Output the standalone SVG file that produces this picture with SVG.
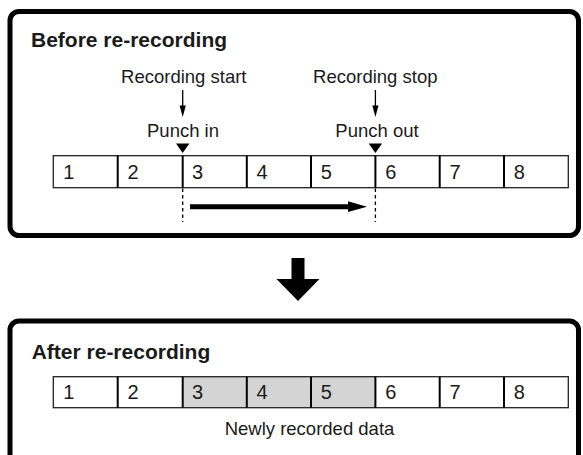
<svg xmlns="http://www.w3.org/2000/svg" width="583" height="455" viewBox="0 0 583 455">
<style>
.frame{fill:#fff;stroke:#000;stroke-width:5}
.t{font-family:"Liberation Sans",Arial,sans-serif;fill:#1a1a1a}
.title{font-size:21px;font-weight:bold}
.lbl{font-size:18.5px;text-anchor:middle}
.dig{font-size:20px}
.cells{fill:none;stroke:#222;stroke-width:1.3}
.div{stroke:#000;stroke-width:2}
.dash{stroke:#000;stroke-width:1.3;stroke-dasharray:3.5 3}
.thin{stroke:#000;stroke-width:1.3}
.shade{fill:#d4d4d4}
</style>
<rect width="583" height="455" fill="#fff"/>
<g id="before">
<rect class="frame" x="10" y="11.5" width="568.5" height="224" rx="9"/>
<text class="t title" x="31" y="46.7">Before re-recording</text>
</g>
<g id="labels-before">
<g id="start">
<text class="t lbl" x="183.8" y="83.3">Recording start</text>
<text class="t lbl" x="183" y="136.7">Punch in</text>
</g>
<g id="stop">
<text class="t lbl" x="375.3" y="83.3">Recording stop</text>
<text class="t lbl" x="377" y="136.7">Punch out</text>
</g>
</g>
<g id="track-before">
<rect class="cells" x="53.3" y="155.7" width="515" height="32"/>
<g class="div">
<line x1="117.7" y1="155.7" x2="117.7" y2="187.7"/>
<line x1="182.7" y1="155.7" x2="182.7" y2="187.7"/>
<line x1="246.8" y1="155.7" x2="246.8" y2="187.7"/>
<line x1="311" y1="155.7" x2="311" y2="187.7"/>
<line x1="375.4" y1="155.7" x2="375.4" y2="187.7"/>
<line x1="439.7" y1="155.7" x2="439.7" y2="187.7"/>
<line x1="504" y1="155.7" x2="504" y2="187.7"/>
</g>
<g class="t dig">
<text x="63.3" y="178.5">1</text>
<text x="127.5" y="178.5">2</text>
<text x="192" y="178.5">3</text>
<text x="256.5" y="178.5">4</text>
<text x="320.8" y="178.5">5</text>
<text x="385.2" y="178.5">6</text>
<text x="449.5" y="178.5">7</text>
<text x="513.8" y="178.5">8</text>
</g>
</g>
<g id="connectors">
<line class="thin" x1="182.7" y1="90" x2="182.7" y2="108"/>
<polygon points="179.6,105.5 185.8,105.5 182.7,117" fill="#000"/>
<line class="thin" x1="375.4" y1="90" x2="375.4" y2="108"/>
<polygon points="372.3,105.5 378.5,105.5 375.4,117" fill="#000"/>
<polygon points="176,143.5 189.4,143.5 182.7,153" fill="#000"/>
<polygon points="368.7,143.5 382.1,143.5 375.4,153" fill="#000"/>
<line class="dash" x1="182.7" y1="188.5" x2="182.7" y2="222"/>
<line class="dash" x1="375.4" y1="188.5" x2="375.4" y2="222"/>
<line x1="190" y1="206.7" x2="350" y2="206.7" stroke="#000" stroke-width="5"/>
<polygon points="348,201.3 367,206.7 348,212.1" fill="#000"/>
<polygon points="291.5,258 304.5,258 304.5,279 319.5,279 298,301 276.5,279 291.5,279" fill="#000"/>
</g>
<g id="after">
<rect class="frame" x="10" y="321" width="568.5" height="200" rx="9"/>
<text class="t title" x="31.7" y="359.3">After re-recording</text>
</g>
<g id="track-after">
<rect class="shade" x="182.7" y="376.7" width="192.7" height="31"/>
<rect class="cells" x="53.3" y="376.7" width="515" height="31"/>
<g class="div">
<line x1="117.7" y1="376.7" x2="117.7" y2="407.7"/>
<line x1="182.7" y1="376.7" x2="182.7" y2="407.7"/>
<line x1="246.8" y1="376.7" x2="246.8" y2="407.7"/>
<line x1="311" y1="376.7" x2="311" y2="407.7"/>
<line x1="375.4" y1="376.7" x2="375.4" y2="407.7"/>
<line x1="439.7" y1="376.7" x2="439.7" y2="407.7"/>
<line x1="504" y1="376.7" x2="504" y2="407.7"/>
</g>
<g class="t dig">
<text x="63.3" y="399">1</text>
<text x="127.5" y="399">2</text>
<text x="192" y="399">3</text>
<text x="256.5" y="399">4</text>
<text x="320.8" y="399">5</text>
<text x="385.2" y="399">6</text>
<text x="449.5" y="399">7</text>
<text x="513.8" y="399">8</text>
</g>
<text class="t lbl" x="309.5" y="435">Newly recorded data</text>
</g>
</svg>
